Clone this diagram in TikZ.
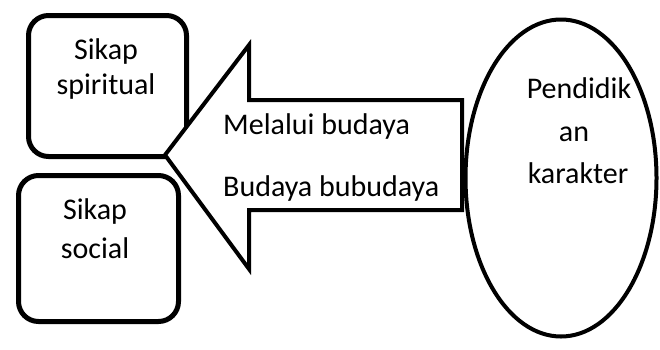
\documentclass[tikz,border=0pt]{standalone}
\usepackage{fontspec}
\setmainfont{Carlito}
\usetikzlibrary{shapes.geometric}
\begin{document}
\begin{tikzpicture}[x=1pt,y=-1pt,
  outline/.style={draw=black,line width=5pt},
  thinline/.style={draw=black,line width=4pt,line join=miter},
  label/.style={inner sep=0pt,anchor=base,font=\fontsize{30}{36}\selectfont},
  leftlabel/.style={label,anchor=base west}]
  \useasboundingbox (0,0) rectangle (660,349);

  % attitude boxes on the left
  \node[outline,rounded corners=20pt,minimum width=158pt,minimum height=141pt,anchor=north west]
    (spiritual) at (26,13) {};
  \node[outline,rounded corners=20pt,minimum width=160pt,minimum height=146pt,anchor=north west]
    (social) at (16,173) {};
  \node[label] (spiritualA) at (106,59) {Sikap};
  \node[label] (spiritualB) at (106,94) {spiritual};
  \node[label] (socialA) at (95,219) {Sikap};
  \node[label] (socialB) at (95,258) {social};

  % character education ellipse on the right
  \node[thinline,ellipse,minimum width=191pt,minimum height=317pt] (edu) at (561,178) {};
  \node[label] (eduA) at (579,98) {Pendidik};
  \node[label] (eduB) at (574,141) {an};
  \node[label] (eduC) at (578,183) {karakter};

  % block arrow pointing left
  \coordinate (tip) at (165,155);
  \draw[thinline,fill=white] (tip) -- (249,45) -- (249,100) -- (462,100) -- (462,210)
    -- (249,210) -- (249,269) -- cycle;
  \node[leftlabel] (via) at (223,134) {Melalui budaya};
  \node[leftlabel] (culture) at (223,196) {Budaya bubudaya};
\end{tikzpicture}
\end{document}
